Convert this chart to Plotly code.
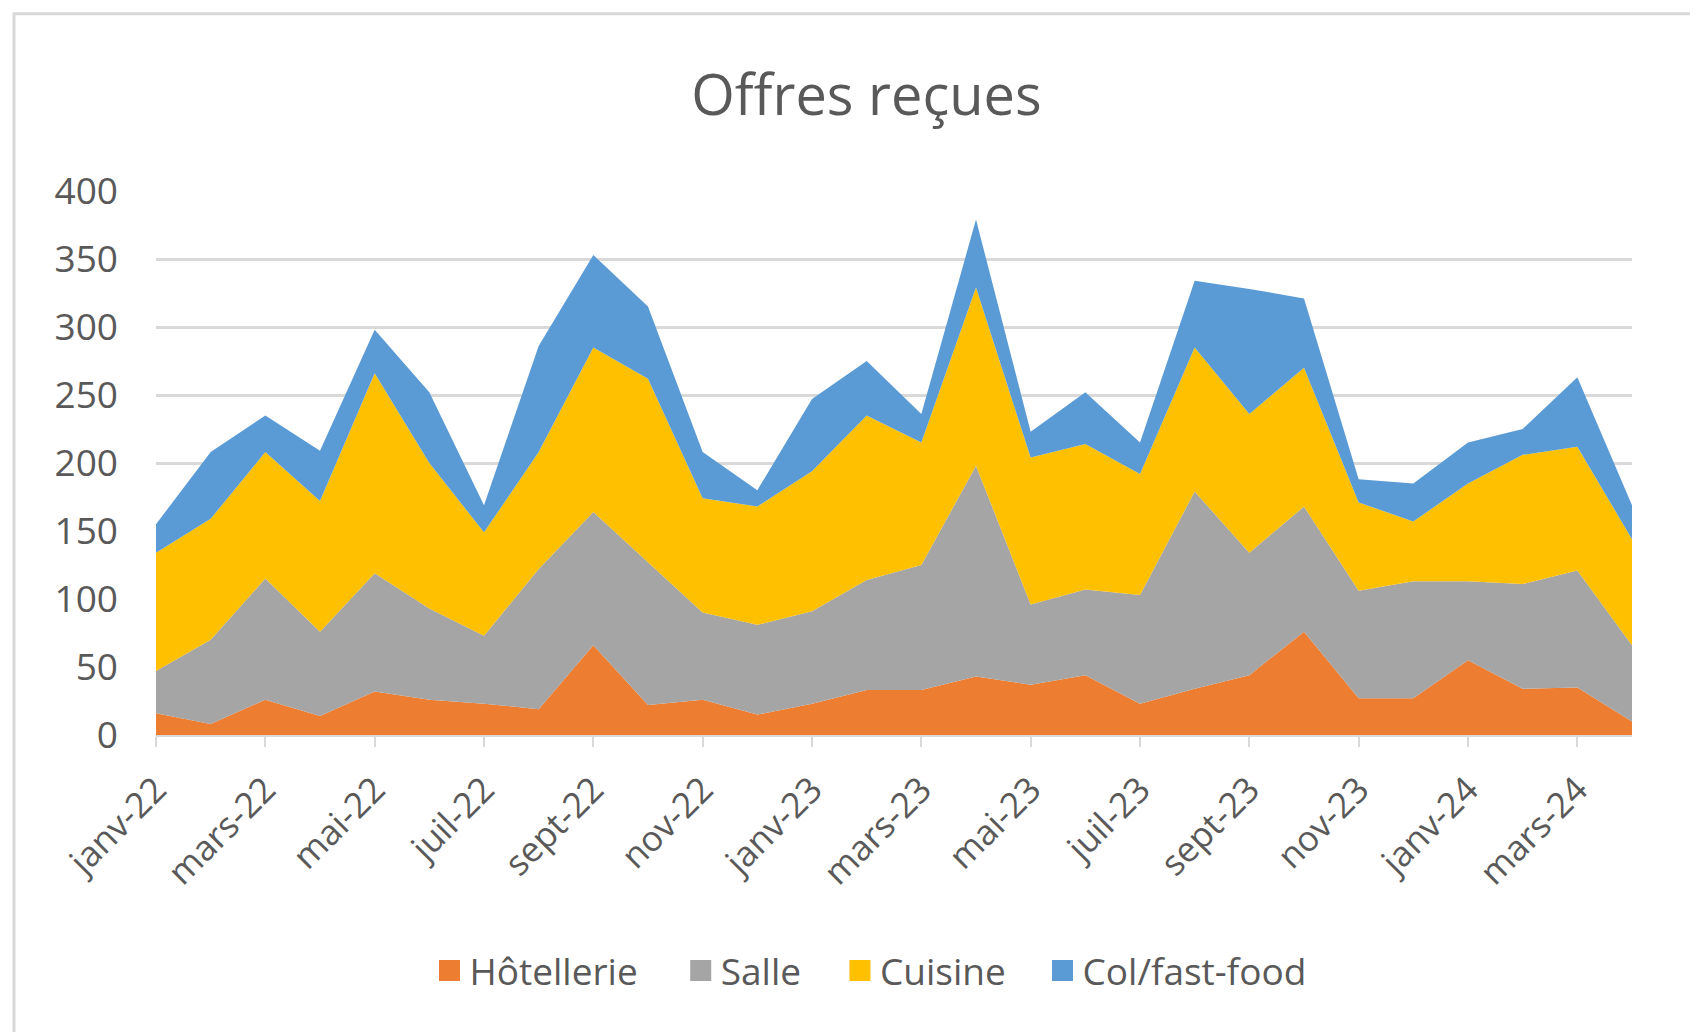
import plotly.graph_objects as go

months = ["janv-22", "févr-22", "mars-22", "avr-22", "mai-22", "juin-22", "juil-22", "août-22",
          "sept-22", "oct-22", "nov-22", "déc-22", "janv-23", "févr-23", "mars-23", "avr-23",
          "mai-23", "juin-23", "juil-23", "août-23", "sept-23", "oct-23", "nov-23", "déc-23",
          "janv-24", "févr-24", "mars-24", "avr-24"]

hotellerie = [16, 8, 26, 14, 32, 26, 23, 19, 66, 22, 26, 15, 23, 33, 33, 43,
              37, 44, 23, 34, 44, 76, 27, 27, 55, 34, 35, 10]
salle = [31, 62, 89, 62, 87, 67, 50, 103, 98, 105, 64, 66, 68, 81, 92, 155,
         59, 63, 80, 145, 90, 92, 79, 86, 58, 77, 86, 56]
cuisine = [87, 89, 93, 96, 147, 107, 76, 86, 121, 135, 84, 87, 103, 121, 90, 131,
           108, 107, 89, 106, 102, 102, 65, 44, 72, 95, 91, 78]
fastfood = [21, 49, 27, 37, 32, 52, 20, 78, 68, 53, 34, 12, 53, 40, 21, 50,
            19, 38, 23, 49, 92, 51, 17, 28, 30, 19, 51, 25]

series_names = ["Hôtellerie", "Salle", "Cuisine", "Col/fast-food"]
series_values = [hotellerie, salle, cuisine, fastfood]
colors = ["#ED7D31", "#A5A5A5", "#FFC000", "#5B9BD5"]

tick_labels = months[::2]
y_ticks = [0, 50, 100, 150, 200, 250, 300, 350, 400]

FONT = "Open Sans, Liberation Sans, sans-serif"
TXT = "#595959"

legend_ids = ["legend", "legend2", "legend3", "legend4"]
legend_x = [0.1853, 0.3555, 0.4634, 0.6006]
LEG_Y = -0.4336

fig = go.Figure()
for name, vals, col in zip(series_names, series_values, colors):
    fig.add_trace(go.Scatter(
        x=months, y=vals, name=name, stackgroup="one",
        mode="lines", line=dict(width=0, color=col), fillcolor=col,
        showlegend=False, hoverinfo="x+y+name"))
for name, col, lid in zip(series_names, colors, legend_ids):
    fig.add_trace(go.Scatter(
        x=[None], y=[None], name=name, mode="markers", legend=lid,
        marker=dict(symbol="square", size=16, color=col, line=dict(color=col, width=5)),
        showlegend=True))

leg_common = dict(orientation="h", y=LEG_Y, yanchor="middle", xanchor="left",
                  font=dict(size=37, color=TXT, family=FONT), itemwidth=30,
                  bgcolor="rgba(0,0,0,0)")

fig.update_layout(
    width=1690, height=1024,
    margin=dict(l=148, r=66, t=183, b=297),
    paper_bgcolor="white", plot_bgcolor="white",
    font=dict(family=FONT, color=TXT, size=36),
    title=dict(text="Offres reçues", x=0.508, xref="container", xanchor="center",
               y=0.915, yref="container", yanchor="middle",
               font=dict(size=56, color=TXT, family=FONT)),
    legend=dict(x=legend_x[0], **leg_common),
    legend2=dict(x=legend_x[1], **leg_common),
    legend3=dict(x=legend_x[2], **leg_common),
    legend4=dict(x=legend_x[3], **leg_common),
    xaxis=dict(type="category", categoryorder="array", categoryarray=months,
               range=[0, len(months) - 1], tickmode="array", tickvals=tick_labels,
               ticktext=tick_labels, tickangle=-45, showgrid=False,
               ticks="outside", ticklen=10, tickwidth=2, tickcolor="#d9d9d9",
               showline=True, linecolor="#d9d9d9", linewidth=2,
               tickfont=dict(size=35, color=TXT), ticklabelstandoff=8),
    yaxis=dict(range=[0, 400], tickvals=y_ticks, showgrid=True, gridcolor="#d9d9d9",
               gridwidth=3, zeroline=False, showline=False, ticks="",
               tickfont=dict(size=37, color=TXT), ticklabelstandoff=37),
    shapes=[dict(type="rect", xref="paper", yref="paper", x0=-0.0962, x1=1.2,
                 y0=-0.7, y1=1.326, line=dict(color="#d9d9d9", width=3),
                 fillcolor="rgba(0,0,0,0)", layer="below")],
)

fig.write_html("out.html")
